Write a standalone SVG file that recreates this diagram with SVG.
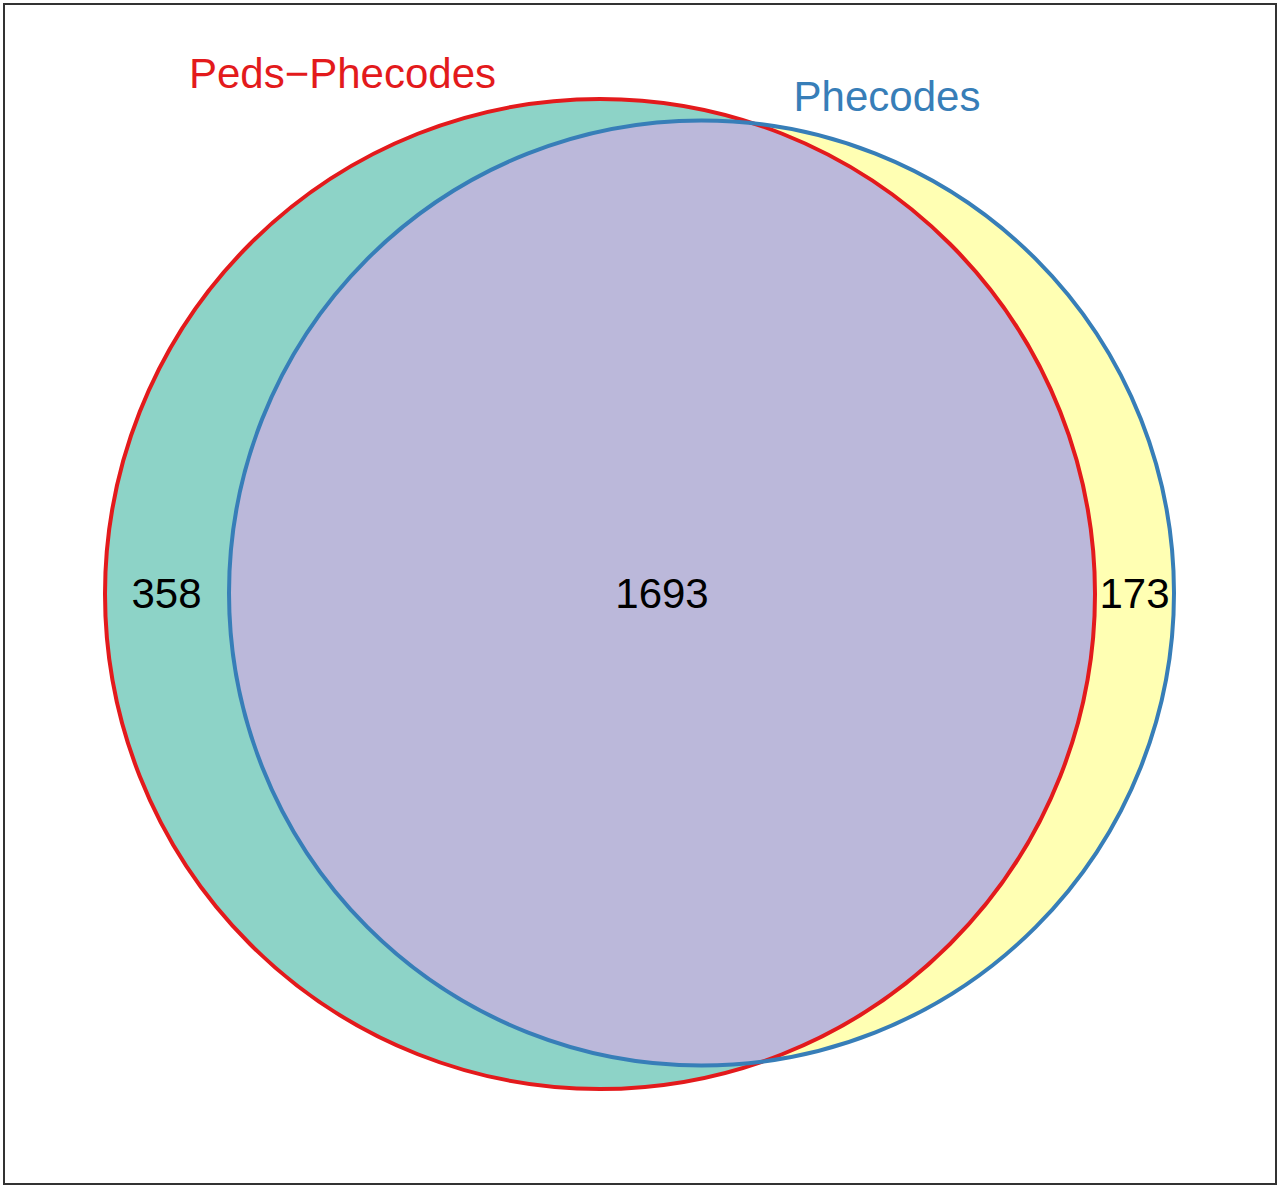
<svg xmlns="http://www.w3.org/2000/svg" width="1280" height="1188" viewBox="0 0 1280 1188">
<style>
.lbl{font-family:"Liberation Sans",Arial,Helvetica,sans-serif;font-size:42px;text-anchor:middle}
.num{fill:#000}
</style>
<defs>
<clipPath id="clipRed"><circle cx="600" cy="594" r="495"/></clipPath>
</defs>
<rect x="0" y="0" width="1280" height="1188" fill="#fff"/>
<rect x="4" y="4" width="1272" height="1180" fill="none" stroke="#333" stroke-width="2"/>
<g id="fills">
<circle cx="600" cy="594" r="495" fill="#8DD3C7"/>
<circle cx="701.5" cy="593" r="472.5" fill="#FFFFB3"/>
<circle cx="701.5" cy="593" r="472.5" fill="#BBB8DA" clip-path="url(#clipRed)"/>
</g>
<g id="peds-phecodes">
<circle cx="600" cy="594" r="495" fill="none" stroke="#E31A1C" stroke-width="4"/>
<text class="lbl" x="342.5" y="88" fill="#E31A1C">Peds−Phecodes</text>
</g>
<g id="phecodes">
<circle cx="701.5" cy="593" r="472.5" fill="none" stroke="#377EB8" stroke-width="4"/>
<text class="lbl" x="887" y="111" fill="#377EB8">Phecodes</text>
</g>
<g id="counts">
<text class="lbl num" x="166.5" y="608">358</text>
<text class="lbl num" x="662" y="608">1693</text>
<text class="lbl num" x="1134.5" y="608">173</text>
</g>
<g id="connectors"/>
</svg>
